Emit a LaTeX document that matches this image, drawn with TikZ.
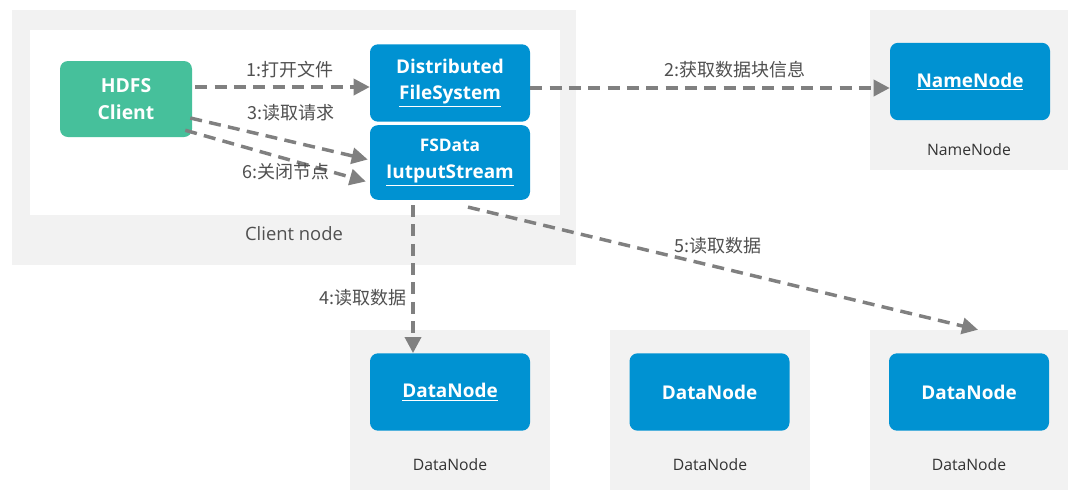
\documentclass[tikz,border=0pt]{standalone}
\usepackage{fontspec}
\setmainfont{Open Sans}
\newfontfamily\cjk{Noto Sans CJK SC}
\usetikzlibrary{arrows.meta,calc}
\definecolor{bluebox}{RGB}{0,146,210}
\definecolor{greenbox}{RGB}{70,192,155}
\definecolor{panelgray}{RGB}{242,242,242}
\definecolor{arrowgray}{RGB}{128,128,128}
\definecolor{labelgray}{RGB}{80,80,80}
\newcommand{\wul}[1]{\underline{#1}}
\tikzset{
  panel/.style={fill=panelgray,draw=none,inner sep=0pt},
  bbox/.style={fill=bluebox,draw=none,rounded corners=6pt,text=white,font=\fontsize{14.2}{20}\selectfont\bfseries,align=center,minimum width=120pt,minimum height=58pt,inner sep=0pt},
  gbox/.style={fill=greenbox,draw=none,rounded corners=6pt,text=white,font=\fontsize{14.5}{20}\selectfont\bfseries,align=center,minimum width=99pt,minimum height=57pt,inner sep=0pt},
  lbl/.style={text=labelgray,font=\cjk\fontsize{13.5}{15}\selectfont,inner sep=1pt},
  sublbl/.style={text=black!80,font=\fontsize{11.8}{13}\selectfont,inner sep=1pt},
  flow/.style={draw=arrowgray,line width=2.6pt,dash pattern=on 9pt off 5.5pt,-{Triangle[length=12pt,width=12pt]}},
}
\begin{document}
\begin{tikzpicture}[x=0.75pt,y=-0.75pt]
\useasboundingbox (0,0) rectangle (1080,497);
\fill[white] (0,0) rectangle (1080,497);
% panels
\node[panel,minimum width=423pt,minimum height=191pt] (clientpanel) at (294,137.5) {};
\node[panel,fill=white,minimum width=397.5pt,minimum height=138.75pt] (clientinner) at (295,122.5) {};
\node[panel,minimum width=148.5pt,minimum height=120pt] (nnpanel) at (969,90) {};
\node[panel,minimum width=150pt,minimum height=120pt] (dp1) at (450,410) {};
\node[panel,minimum width=150pt,minimum height=120pt] (dp2) at (710,410) {};
\node[panel,minimum width=148.5pt,minimum height=120pt] (dp3) at (969,410) {};
% labels of panels
\node[sublbl,font=\fontsize{13.8}{15}\selectfont,text=labelgray] (clientlbl) at (294,234) {Client node};
\node[sublbl] (nnlbl) at (969,150) {NameNode};
\node[sublbl] (dl1) at (450,465) {DataNode};
\node[sublbl] (dl2) at (710,465) {DataNode};
\node[sublbl] (dl3) at (969,465) {DataNode};
% boxes
\node[gbox] (client) at (126,99) {HDFS\\Client};
\node[bbox] (dfs) at (450,83) {Distributed\\\wul{FileSystem}};
\node[bbox,minimum height=56pt] (fsd) at (450,162.5) {\fontsize{13}{18}\selectfont FSData\\\wul{IutputStream}};
\node[bbox] (nn) at (970,81.5) {\wul{NameNode}};
\node[bbox] (dn1) at (450,392) {\wul{DataNode}};
\node[bbox] (dn2) at (709.5,392) {DataNode};
\node[bbox] (dn3) at (969,392) {DataNode};
% connectors
\draw[flow] ($(client.east)+(3,-12)$) -- ($(dfs.west)+(0,4)$);
\draw[flow] ($(dfs.east)+(0,5)$) -- ($(nn.west)+(0,6.5)$);
\draw[flow] ($(client.east)+(-2,19)$) -- ($(fsd.west)+(-2,-3)$);
\draw[flow] ($(client.south east)+(-7,-7)$) -- ($(fsd.west)+(-4,19)$);
\coordinate (s4) at ($(fsd.south)+(-37,5)$);
\draw[flow] (s4) -- (s4 |- dn1.north);
\draw[flow] ($(fsd.south)+(18,7)$) -- ($(dp3.north)+(9,0)$);
% connector labels
\node[lbl] (l1) at (290,70) {1:打开文件};
\node[lbl] (l2) at (735,70) {2:获取数据块信息};
\node[lbl] (l3) at (291,113) {3:读取请求};
\node[lbl] (l6) at (286,172) {6:关闭节点};
\node[lbl] (l4) at (363,298) {4:读取数据};
\node[lbl] (l5) at (718,246) {5:读取数据};
\end{tikzpicture}
\end{document}
